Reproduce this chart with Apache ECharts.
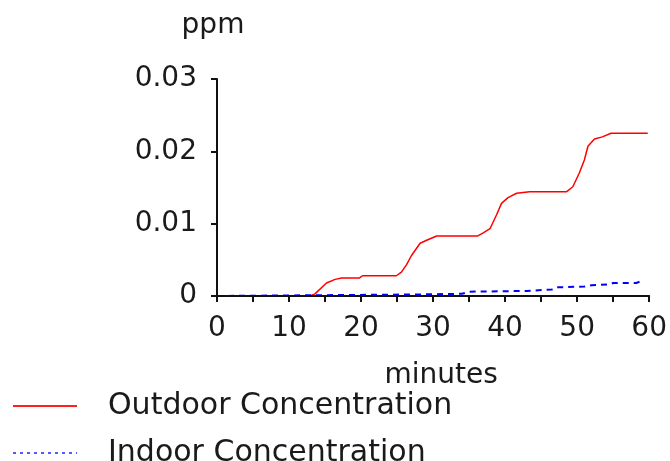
<!DOCTYPE html>
<html>
<head>
<meta charset="utf-8">
<script src="https://cdn.jsdelivr.net/npm/echarts@6/dist/echarts.min.js"></script>
<style>
  html, body { margin: 0; padding: 0; background: #fff; }
  #chart { width: 670px; height: 461px; }
</style>
</head>
<body>
<div id="chart"></div>
<script>
// Outdoor concentration (ppm) over time (minutes)
const outdoorMinutes = [0, 12.9, 13.6, 15.2, 16.4, 17.3, 19.8, 20.2, 24.9, 25.6, 26.3, 27.0, 28.2, 29.1, 30.5, 36.2, 36.9, 37.9, 38.8, 39.5, 40.4, 41.6, 43.4, 48.5, 49.4, 50.3, 51.0, 51.5, 52.4, 53.5, 54.7, 59.8];
const outdoorPpm = [0, 0, 0.0003, 0.0018, 0.0023, 0.0025, 0.0025, 0.0028, 0.0028, 0.0033, 0.0043, 0.0056, 0.0073, 0.0077, 0.0083, 0.0083, 0.0087, 0.0093, 0.0112, 0.0128, 0.0136, 0.0142, 0.0144, 0.0144, 0.0151, 0.0170, 0.0188, 0.0207, 0.0217, 0.0220, 0.0225, 0.0225];

// Indoor concentration (ppm) over time (minutes)
const indoorMinutes = [0, 26.5, 34.0, 35.0, 43.0, 46.5, 47.2, 51.0, 52.0, 54.5, 55.0, 58.2, 59.0];
const indoorPpm = [0, 0.0002, 0.0003, 0.0006, 0.0007, 0.0009, 0.0012, 0.0013, 0.0015, 0.0016, 0.0018, 0.0018, 0.0021];

const seriesNames = ['Outdoor Concentration', 'Indoor Concentration'];

const pairs = (xs, ys) => xs.map((x, i) => [x, ys[i]]);

const textColor = '#1a1a1a';
const fontFamily = 'DejaVu Sans, Verdana, sans-serif';

const chart = echarts.init(document.getElementById('chart'), null, { renderer: 'canvas' });
chart.setOption({
  animation: false,
  backgroundColor: '#fff',
  grid: { left: 217, right: 20, top: 79, bottom: 165 },
  xAxis: {
    type: 'value',
    min: 0, max: 60, interval: 5,
    z: 5,
    name: 'minutes',
    nameLocation: 'middle',
    nameGap: 66,
    nameTextStyle: { color: textColor, fontSize: 28, fontFamily, lineHeight: 28, padding: [0, 0, 0, 16] },
    axisLine: { lineStyle: { color: '#111', width: 2 } },
    axisTick: { inside: false, length: 6, lineStyle: { color: '#111', width: 2 } },
    axisLabel: {
      color: textColor, fontSize: 28, fontFamily, margin: 19,
      formatter: v => (v % 10 === 0 ? String(v) : '')
    },
    splitLine: { show: false }
  },
  yAxis: {
    type: 'value',
    min: 0, max: 0.03, interval: 0.01,
    z: 5,
    name: 'ppm',
    nameLocation: 'end',
    nameGap: 39,
    nameTextStyle: { color: textColor, fontSize: 28, fontFamily, align: 'center', padding: [0, 8, 0, 0] },
    axisLine: { show: true, lineStyle: { color: '#111', width: 2 } },
    axisTick: { show: true, length: 6, lineStyle: { color: '#111', width: 2 } },
    axisLabel: { color: textColor, fontSize: 28, fontFamily, margin: 20 },
    splitLine: { show: false }
  },
  legend: {
    orient: 'vertical',
    left: 12,
    top: 391,
    width: 600,
    height: 200,
    padding: 0,
    itemWidth: 64,
    itemHeight: 20,
    itemGap: 17,
    textStyle: { color: textColor, fontSize: 30, fontFamily, lineHeight: 22, padding: [0, 0, 0, 26] },
    data: [
      {
        name: seriesNames[0],
        itemStyle: { opacity: 0 },
        lineStyle: { color: '#ff2020', width: 2, type: 'solid' }
      },
      {
        name: seriesNames[1],
        itemStyle: { opacity: 0 },
        lineStyle: { color: '#2020ff', width: 1.5, type: [3, 4] }
      }
    ]
  },
  series: [
    {
      name: seriesNames[0],
      type: 'line',
      data: pairs(outdoorMinutes, outdoorPpm),
      symbol: 'none',
      z: 2,
      lineStyle: { color: '#ff0000', width: 1.5 },
      itemStyle: { color: '#ff0000' }
    },
    {
      name: seriesNames[1],
      type: 'line',
      data: pairs(indoorMinutes, indoorPpm),
      symbol: 'none',
      z: 2,
      lineStyle: { color: '#0000ff', width: 2, type: [6, 5] },
      itemStyle: { color: '#0000ff' }
    }
  ]
});
</script>
</body>
</html>
